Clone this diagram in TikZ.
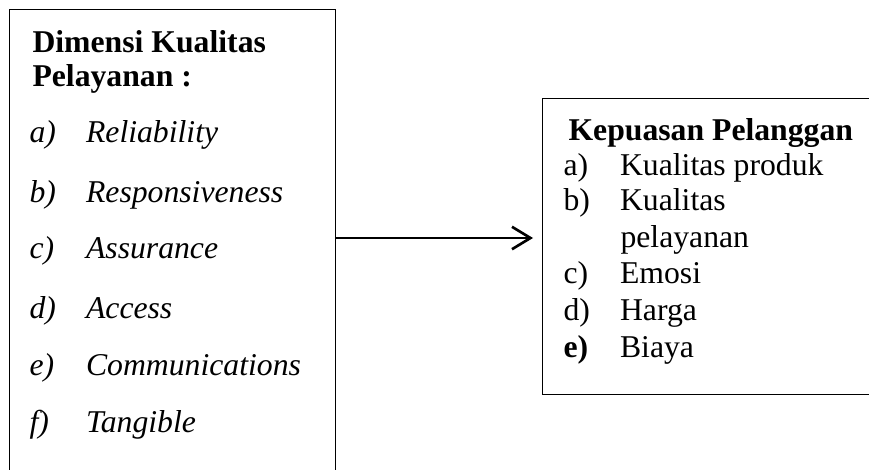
\documentclass[tikz,border=0pt]{standalone}
\usepackage{fontspec}
\setmainfont{Liberation Serif}
\usetikzlibrary{arrows.meta,positioning}
\newcommand{\itm}[2]{\makebox[21.4pt][l]{#1}#2}

\begin{document}
\begin{tikzpicture}[
    x=0.3785pt, y=-0.3785pt,
    box/.style={rectangle, draw=black, line width=0.45pt, inner sep=0pt},
    txt/.style={anchor=base west, inner sep=0pt, font=\fontsize{12}{14}\selectfont},
    itxt/.style={txt, font=\fontsize{12}{14}\selectfont\itshape}
    ]
    \useasboundingbox (0,0) rectangle (869,469);
    \node[box, anchor=north west, minimum width=123.4pt, minimum height=180pt] (dimensi) at (9,9) {};
    \node[box, anchor=north west, minimum width=130pt, minimum height=112pt] (kepuasan) at (542,98) {};

    \node[txt] (judul1) at (32,53) {\textbf{Dimensi Kualitas}};
    \node[txt] (judul2) at (32,87) {\textbf{Pelayanan :}};
    \node[itxt] (rel) at (29,143) {\itm{a)}{Reliability}};
    \node[itxt] (resp) at (29,202) {\itm{b)}{Responsiveness}};
    \node[itxt] (assu) at (29,258) {\itm{c)}{Assurance}};
    \node[itxt] (acc) at (29,318) {\itm{d)}{Access}};
    \node[itxt] (comm) at (29,375) {\itm{e)}{Communications}};
    \node[itxt] (tang) at (29,432) {\itm{f)}{Tangible}};

    \node[txt] (kjudul) at (568,140) {\textbf{Kepuasan Pelanggan}};
    \node[txt] (prod) at (563,175) {\itm{a)}{Kualitas produk}};
    \node[txt] (pel) at (563,210) {\itm{b)}{Kualitas}};
    \node[txt] (pel2) at (620,247) {pelayanan};
    \node[txt] (emosi) at (563,283) {\itm{c)}{Emosi}};
    \node[txt] (harga) at (563,320) {\itm{d)}{Harga}};
    \node[txt] (biaya) at (563,357) {\itm{\textbf{e)}}{Biaya}};

    \draw[-{Straight Barb[length=7pt,width=8.5pt]}, line width=1pt, shorten >=3.4pt] (dimensi.east |- 0,238) -- (kepuasan.west |- 0,238);
  \end{tikzpicture}
\end{document}
